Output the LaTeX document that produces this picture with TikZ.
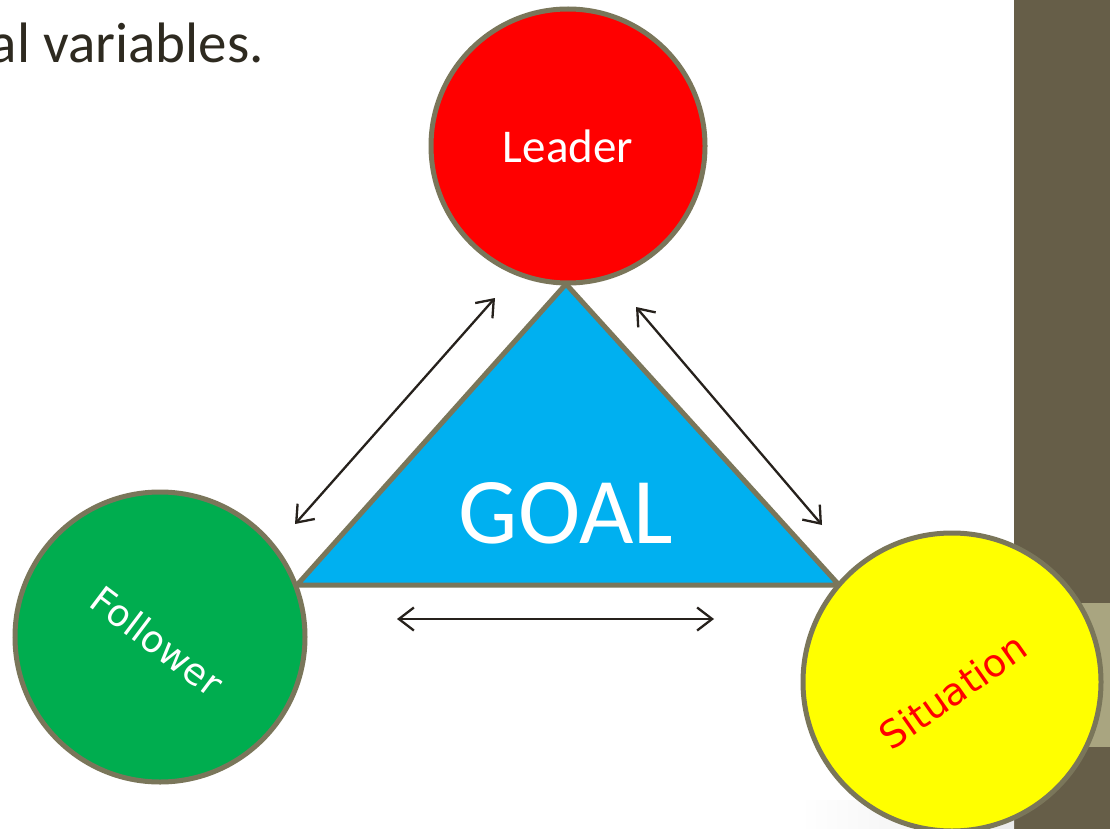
\documentclass[tikz,border=0pt]{standalone}
\usepackage{fontspec}
\setmainfont{Carlito}
\newfontfamily\labelfont{DejaVu Sans}
\usetikzlibrary{arrows.meta}
\definecolor{rim}{RGB}{122,118,90}
\definecolor{barDark}{RGB}{102,94,72}
\definecolor{barLight}{RGB}{169,165,128}
\definecolor{inkDark}{RGB}{46,42,32}
\definecolor{arrowInk}{RGB}{38,33,28}
\definecolor{goalBlue}{RGB}{0,176,240}
\definecolor{leaderRed}{RGB}{255,0,0}
\definecolor{followerGreen}{RGB}{0,173,79}
\definecolor{situationYellow}{RGB}{255,255,0}
\tikzset{
  disc/.style={circle, draw=rim, line width=5pt, inner sep=0pt, minimum size=#1},
  link/.style={draw=arrowInk, line width=2.3pt,
    {Straight Barb[length=15pt,width=23pt]}-{Straight Barb[length=15pt,width=23pt]}},
}
\begin{document}
\begin{tikzpicture}[x=1pt,y=1pt]
  \useasboundingbox (0,0) rectangle (1110,-829);
  \clip (0,0) rectangle (1110,-829);
  \fill[white] (0,0) rectangle (1110,-829);

  % side panel on the right
  \fill[barDark] (1014,0) rectangle (1110,-829);
  \fill[barLight] (1014,-603) rectangle (1110,-747);
  % faint shadow along the bottom edge
  \shade[left color=white, right color=black!8] (800,-800) rectangle (1014,-829);

  % heading line
  \node[anchor=base east, inner sep=0pt, font=\fontsize{57}{60}\selectfont, text=inkDark]
    (heading) at (264,-63) {al variables.};

  % central goal triangle
  \coordinate (apex) at (566,-284);
  \coordinate (baseL) at (297,-585);
  \coordinate (baseR) at (839,-585);
  \filldraw[fill=goalBlue, draw=rim, line width=5pt, line join=miter]
    (apex) -- (baseR) -- (baseL) -- cycle;
  \node[text=white, font=\fontsize{94}{100}\selectfont] (goal) at (566,-513) {GOAL};

  % the three circles
  \node[disc=274pt, fill=leaderRed] (leader) at (568,-146) {};
  \node[text=white, font=\fontsize{47}{50}\selectfont] (leaderText) at (leader) {Leader};

  \node[disc=290pt, fill=followerGreen] (follower) at (160,-637) {};
  \node[text=white, font=\labelfont\fontsize{37}{40}\selectfont, rotate=-37]
    (followerText) at (157,-641) {Follower};

  \node[disc=298pt, fill=situationYellow] (situation) at (952,-682) {};
  \node[text=leaderRed, font=\labelfont\fontsize{38}{40}\selectfont, rotate=35]
    (situationText) at (953,-691) {Situation};

  % relationship arrows
  \coordinate (fl1) at (295,-524);
  \coordinate (fl2) at (495,-298);
  \coordinate (ls1) at (636,-307);
  \coordinate (ls2) at (822,-525);
  \coordinate (fs1) at (397,-619);
  \coordinate (fs2) at (714,-619);
  \draw[link] (fl1) -- (fl2);
  \draw[link] (ls1) -- (ls2);
  \draw[link] (fs1) -- (fs2);
\end{tikzpicture}
\end{document}
